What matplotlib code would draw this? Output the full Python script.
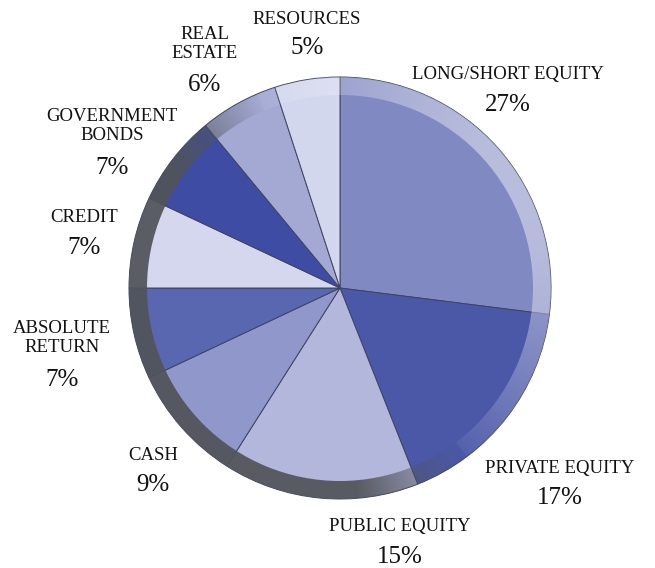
import numpy as np
import matplotlib
matplotlib.use("Agg")
import matplotlib.pyplot as plt
from matplotlib.patches import Wedge

# asset allocation (percent), clockwise from 12 o'clock
labels = ["LONG/SHORT EQUITY", "PRIVATE EQUITY", "PUBLIC EQUITY", "CASH",
          "ABSOLUTE\nRETURN", "CREDIT", "GOVERNMENT\nBONDS", "REAL\nESTATE", "RESOURCES"]
values = [27, 17, 15, 9, 7, 7, 7, 6, 5]
colors = ["#8189c2", "#4b58a8", "#b3b7dc", "#8f97cb", "#5966b0",
          "#d5d7ee", "#3f4ca3", "#a3a9d3", "#d3d7ed"]

# label positions in pixel coords (x, y of name, y of percent)
label_pos = [(508, 75, 105), (560, 468, 498), (400, 527, 557), (153, 455, 485),
             (62, 338, 380), (84, 218, 248), (112, 126, 168), (205, 44, 85),
             (307, 20, 48)]

W, H = 655, 568
cx, cy, R = 340, H - 288, 211

fig = plt.figure(figsize=(W / 100, H / 100), dpi=100)
ax = fig.add_axes([0, 0, 1, 1])

wedges, _ = ax.pie(values, colors=colors, startangle=90, counterclock=False,
                   center=(cx, cy), radius=R, frame=True,
                   wedgeprops=dict(edgecolor="#3d4460", linewidth=0.7))
ax.set_xlim(0, W)
ax.set_ylim(0, H)
ax.set_aspect("equal")
ax.axis("off")

# bevelled rim: light at top right, dark grey at bottom left
rim = 18
n = 600
xs = np.linspace(cx - R, cx + R, n)
ys = np.linspace(cy - R, cy + R, n)
X, Y = np.meshgrid(xs, ys)
th = np.arctan2(Y - cy, X - cx)
s = np.cos(th - np.deg2rad(30))
img = np.zeros((n, n, 4))
dark = np.clip((-s + 0.12) * 1.7, 0, 0.93)
light = np.clip(s, 0, 1) * 0.45
img[..., :3] = np.where(dark[..., None] > 0, np.array([0.32, 0.33, 0.35]), 1.0)
img[..., 3] = np.where(dark > 0, dark, light)
im = ax.imshow(img, extent=(cx - R, cx + R, cy - R, cy + R), origin="lower",
               interpolation="bilinear", zorder=3)
ring = Wedge((cx, cy), R, 0, 360, width=rim, transform=ax.transData,
             facecolor="none", edgecolor="none")
ax.add_patch(ring)
im.set_clip_path(ring)

serif = ["Liberation Serif", "DejaVu Serif"]
for lab, val, (x, y1, y2) in zip(labels, values, label_pos):
    ax.text(x, H - y1, lab, ha="center", va="center", fontsize=13.5,
            family=serif, color="#111111", linespacing=1.2)
    ax.text(x, H - y2, f"{val}%", ha="center", va="center", fontsize=18,
            family=serif, color="#111111")

fig.savefig("out.png", dpi=100)
